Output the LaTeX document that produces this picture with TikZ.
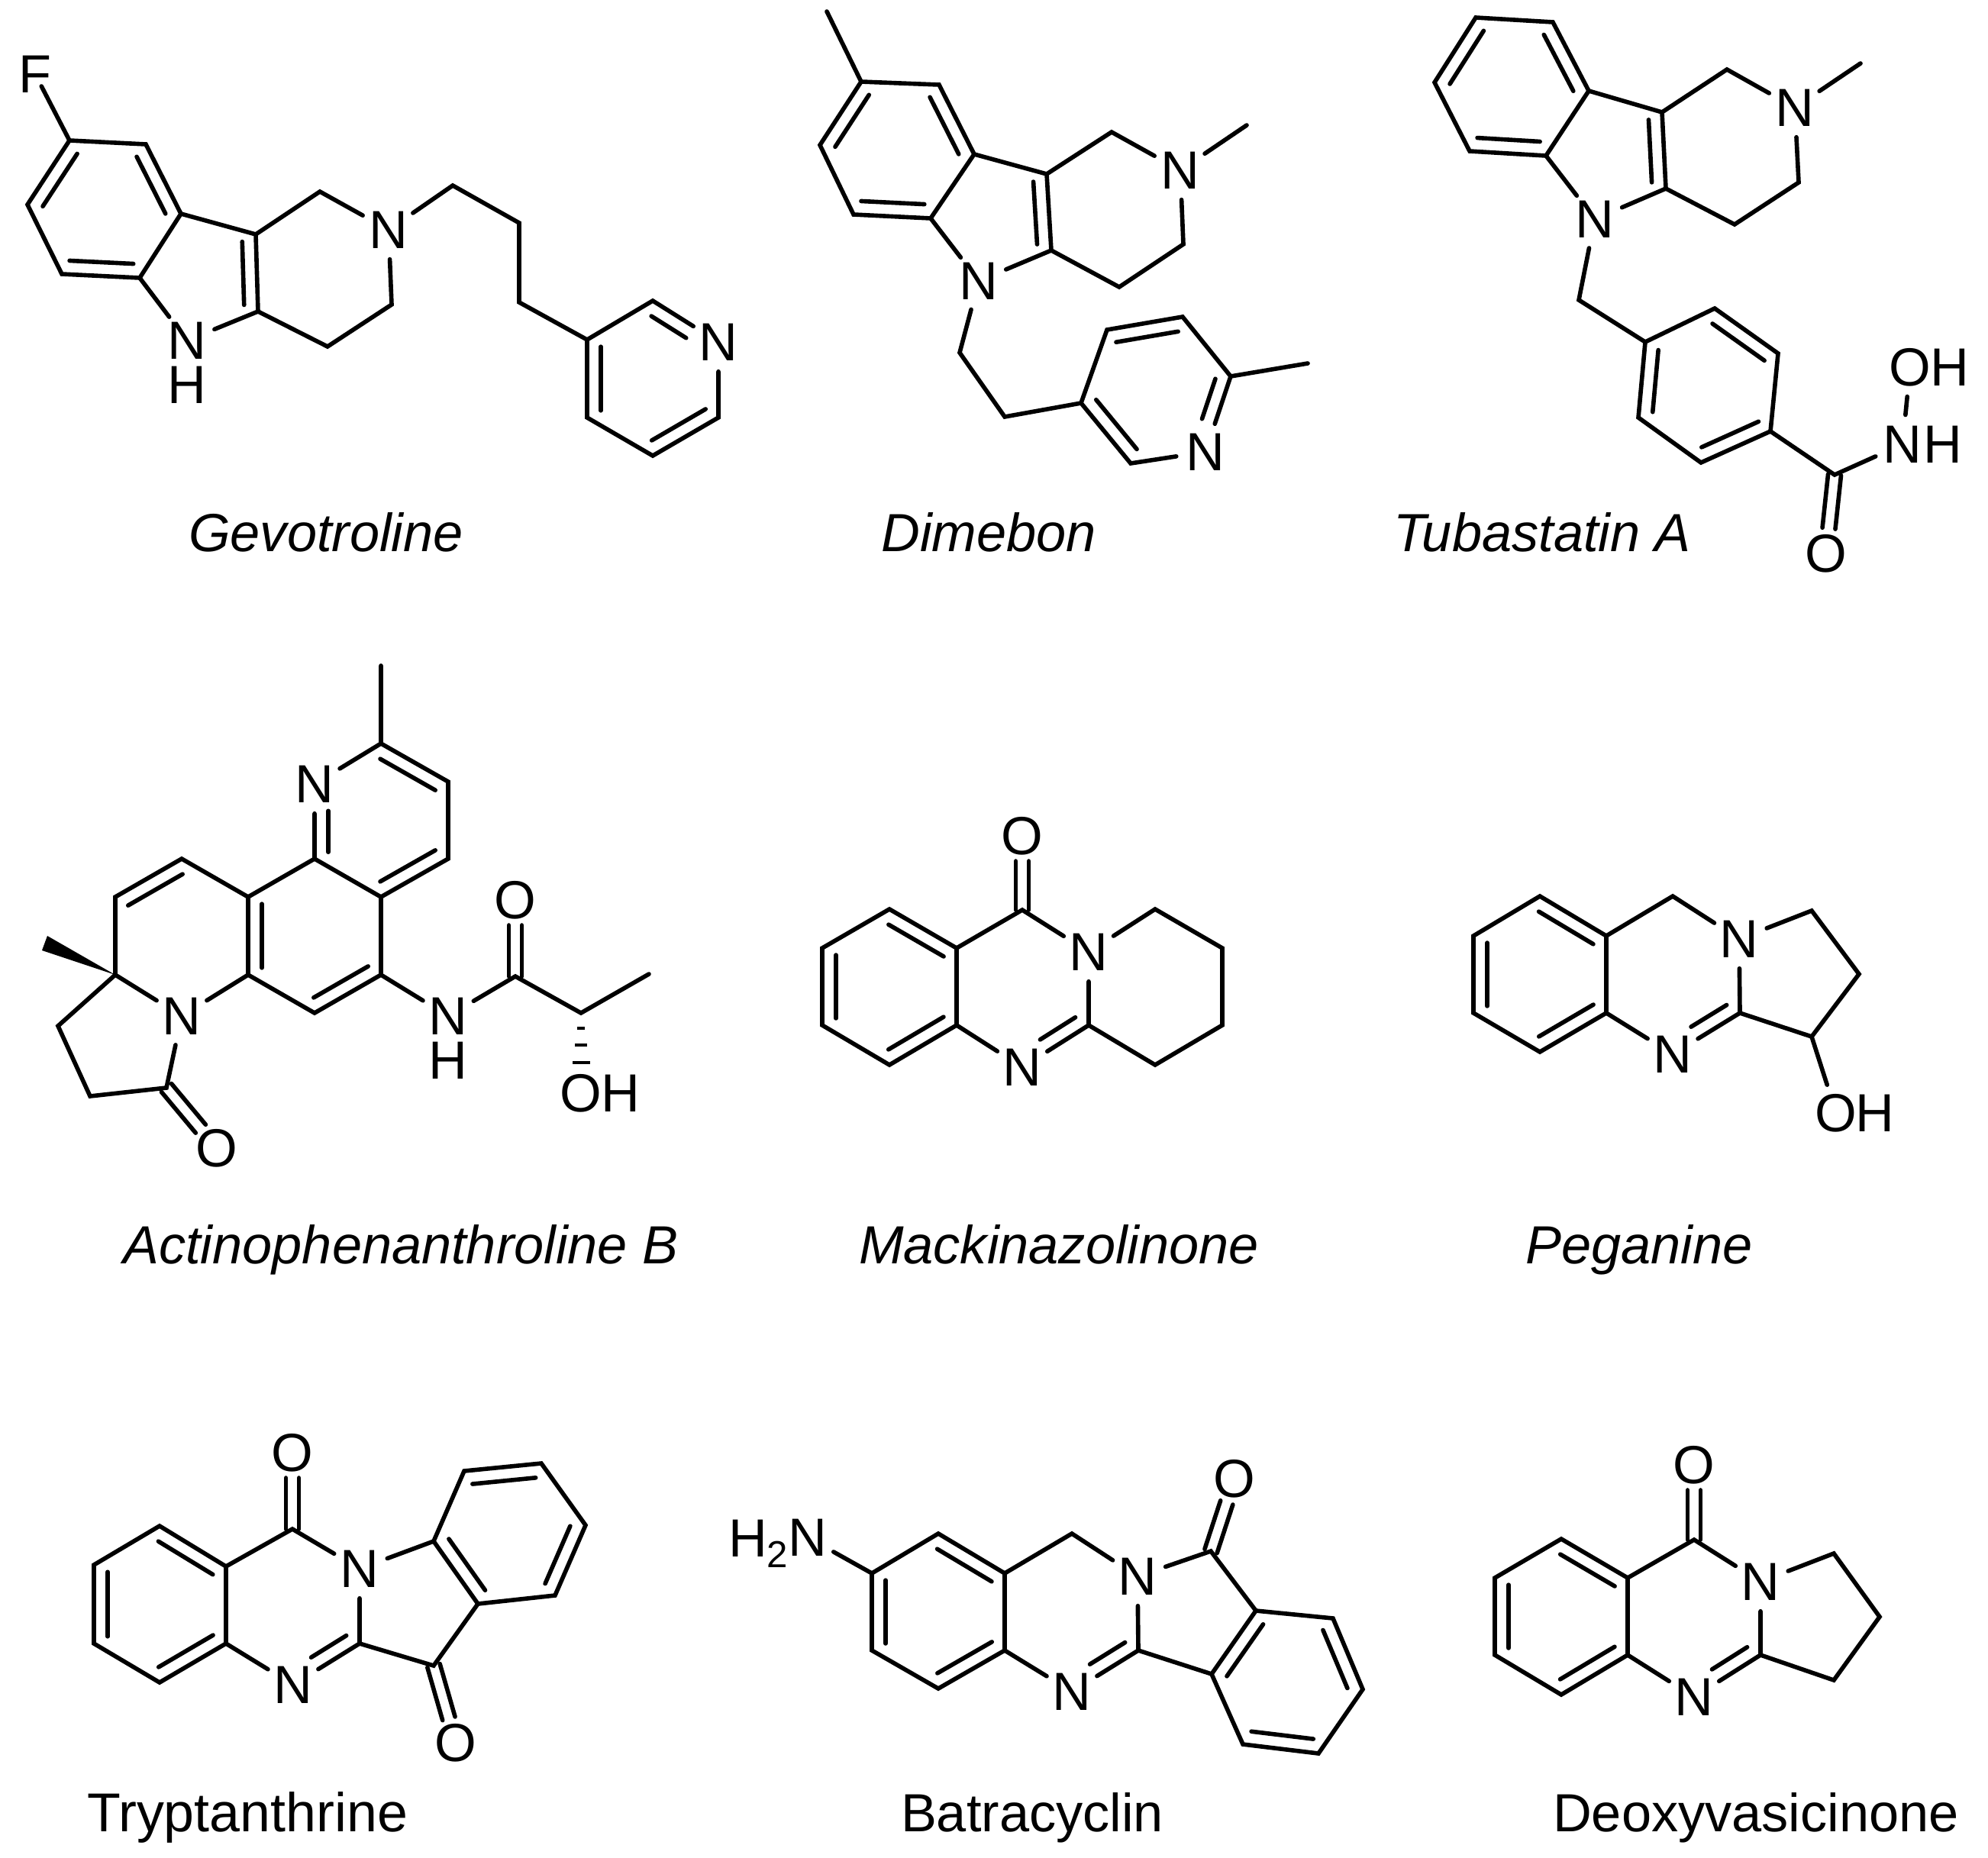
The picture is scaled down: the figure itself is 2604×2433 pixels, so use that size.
\documentclass[tikz,border=0pt]{standalone}
\usepackage{fontspec}
\setmainfont{Liberation Sans}
\usetikzlibrary{calc}
\tikzset{
	bond/.style={line width=1.6pt,line cap=round},
	atom/.style={circle,inner sep=0pt,minimum size=.76cm,font=\fontsize{20}{24}\selectfont},
	molname/.style={anchor=base,inner sep=0pt,font=\fontsize{20}{24}\selectfont},
}
% inner line of a double bond, on the left (\dbl) or right (\dblr) of a->b
\newcommand{\dbl}[3][.91]{\draw[bond] ($(#2)!.09!(#3)!.18cm!90:(#3)$) -- ($(#2)!#1!(#3)!.18cm!-90:(#2)$);}
\newcommand{\dblr}[3][.91]{\draw[bond] ($(#2)!.09!(#3)!.18cm!-90:(#3)$) -- ($(#2)!#1!(#3)!.18cm!90:(#2)$);}
% carbonyl
\newcommand{\twin}[2]{
	\draw[bond,shorten >=.33cm] ($(#1)!.085cm!90:(#2)$) -- ($(#2)!.085cm!-90:(#1)$);
	\draw[bond,shorten >=.33cm] ($(#1)!.085cm!-90:(#2)$) -- ($(#2)!.085cm!90:(#1)$);
}
\begin{document}
\begin{tikzpicture}[x=.01cm,y=-.01cm]
	\useasboundingbox (0,0) rectangle (2604,2433);
	%GEVOTROLINE
	\foreach \n/\x/\y in {g1/91/184,g2/191/189,g3/237/280,g4/183/364,g5/81/359,g6/36/268,g7/335/307,g8/338/408,g9/419/251,g10/513/399,g11/429/454,g12/593/243,g13/680/292,g14/680/396,g15/769/445,g16/855/394,g17/941/547,g18/855/597,g19/769/547}
		\coordinate (\n) at (\x,\y);
	\node[atom] (gF) at (46,97) {F};
	\node[atom] (gN1) at (245,446) {N};
	\node[atom] (gH1) at (245,504) {H};
	\node[atom] (gN2) at (509,301) {N};
	\node[atom] (gN3) at (941,448) {N};
	\draw[bond,shorten >=.18cm] (g1) -- (gF.center);
	\draw[bond] (g1) -- (g2) -- (g3) -- (g4) -- (g5) -- (g6) -- cycle;
	\draw[bond] (g3) -- (g7) -- (g8) -- (gN1) -- (g4);
	\draw[bond] (g7) -- (g9) -- (gN2) -- (g10) -- (g11) -- (g8);
	\draw[bond] (gN2) -- (g12) -- (g13) -- (g14) -- (g15) -- (g16) -- (gN3) -- (g17) -- (g18) -- (g19) -- (g15);
	\dbl{g1}{g6} \dbl{g3}{g2} \dbl{g5}{g4} \dbl{g8}{g7}
	\dbl{g15}{g19} \dbl{g18}{g17} \dblr[.62]{g16}{gN3}
	\node[molname] (nameG) at (427,722) {\itshape Gevotroline};
	%DIMEBON
	\foreach \n/\x/\y in {dM1/1083/15,d1/1128/107,d2/1230/111,d3/1276/202,d4/1219/286,d5/1118/281,d6/1074/190,d7/1371/228,d8/1377/328,d9/1456/173,dM2/1633/164,d10/1550/320,d11/1466/376,d12/1257/462,d13/1316/546,d14/1416/528,d15/1450/432,d16/1549/415,d17/1612/493,dM3/1713/476,d18/1481/607}
		\coordinate (\n) at (\x,\y);
	\node[atom] (dN1) at (1282,368) {N};
	\node[atom] (dN2) at (1546,223) {N};
	\node[atom] (dN3) at (1579,592) {N};
	\draw[bond] (dM1) -- (d1);
	\draw[bond] (d1) -- (d2) -- (d3) -- (d4) -- (d5) -- (d6) -- cycle;
	\draw[bond] (d3) -- (d7) -- (d8) -- (dN1) -- (d4);
	\draw[bond] (d7) -- (d9) -- (dN2) -- (d10) -- (d11) -- (d8);
	\draw[bond] (dN2) -- (dM2);
	\draw[bond] (dN1) -- (d12) -- (d13) -- (d14) -- (d15) -- (d16) -- (d17) -- (dN3) -- (d18) -- (d14);
	\draw[bond] (d17) -- (dM3);
	\dbl{d1}{d6} \dbl{d3}{d2} \dbl{d5}{d4} \dbl{d8}{d7}
	\dbl{d16}{d15} \dbl{d14}{d18} \dblr[.62]{d17}{dN3}
	\node[molname] (nameD) at (1295,722) {\itshape Dimebon};
	%TUBASTATIN
	\foreach \n/\x/\y in {t1/1933/23,t2/2034/29,t3/2081/119,t4/2025/204,t5/1925/198,t6/1879/108,t7/2177/147,t8/2182/247,t9/2262/91,tM/2437/83,t10/2356/239,t11/2272/294,t12/2068/393,t13/2155/448,t14/2246/404,t15/2329/463,t16/2319/565,t17/2228/606,t18/2146/547,t19/2403/622}
		\coordinate (\n) at (\x,\y);
	\node[atom] (tN1) at (2089,287) {N};
	\node[atom] (tN2) at (2351,141) {N};
	\node[atom] (tN3) at (2492,582) {N};
	\node[atom] (tH3) at (2545,582) {H};
	\node[atom] (tO1) at (2502,481) {O};
	\node[atom] (tH1) at (2554,481) {H};
	\node[atom] (tO2) at (2392,725) {O};
	\draw[bond] (t1) -- (t2) -- (t3) -- (t4) -- (t5) -- (t6) -- cycle;
	\draw[bond] (t3) -- (t7) -- (t8) -- (tN1) -- (t4);
	\draw[bond] (t7) -- (t9) -- (tN2) -- (t10) -- (t11) -- (t8);
	\draw[bond] (tN2) -- (tM);
	\draw[bond] (tN1) -- (t12) -- (t13) -- (t14) -- (t15) -- (t16) -- (t17) -- (t18) -- (t13);
	\draw[bond] (t16) -- (t19) -- (tN3) -- (tO1);
	\dbl{t1}{t6} \dbl{t3}{t2} \dbl{t5}{t4} \dbl{t8}{t7}
	\dbl{t15}{t14} \dbl{t17}{t16} \dbl{t13}{t18}
	\twin{t19}{tO2}
	\node[molname] (nameT) at (2020,722) {\itshape Tubastatin A};
	%ACTINOPHENANTHROLINE
	\foreach \n/\x/\y in {aM1/499/872,a1/499/974,a2/587/1024,a3/587/1125,a4/499/1175,a5/412/1125,a6/325/1175,a7/325/1277,a8/412/1327,a9/499/1277,a10/238/1125,a11/151/1175,a12/151/1277,aW1/62/1226,aW2/55/1245,a13/76/1344,a14/118/1436,a15/218/1425,a16/675/1279,a17/761/1327,a18/850/1276}
		\coordinate (\n) at (\x,\y);
	\node[atom] (aN1) at (412,1027) {N};
	\node[atom] (aN2) at (238,1331) {N};
	\node[atom] (aN3) at (587,1331) {N};
	\node[atom] (aH3) at (587,1389) {H};
	\node[atom] (aO1) at (284,1504) {O};
	\node[atom] (aO2) at (675,1179) {O};
	\node[atom] (aO3) at (761,1432) {O};
	\node[atom] (aH) at (813,1432) {H};
	\draw[bond] (aM1) -- (a1) -- (aN1) -- (a5) -- (a4) -- (a3) -- (a2) -- (a1);
	\draw[bond] (a5) -- (a6) -- (a7) -- (a8) -- (a9) -- (a4);
	\draw[bond] (a6) -- (a10) -- (a11) -- (a12) -- (aN2) -- (a7);
	\draw[bond] (a12) -- (a13) -- (a14) -- (a15) -- (aN2);
	\draw[bond] (a9) -- (aN3) -- (a16) -- (a17) -- (a18);
	\fill (a12) -- (aW1) -- (aW2) -- cycle;
	\foreach \f/\w in {.19/.05,.40/.08,.62/.115}
		\draw[line width=1.3pt] ($(a17)!\f!(aO3)!\w cm!90:(aO3)$) -- ($(a17)!\f!(aO3)!\w cm!-90:(aO3)$);
	\dbl{a2}{a1} \dbl{a4}{a3} \dblr[.64]{a5}{aN1}
	\dbl{a6}{a7} \dbl{a8}{a9} \dbl{a10}{a11}
	\twin{a15}{aO1} \twin{a16}{aO2}
	\node[molname] (nameA) at (525,1655) {\itshape Actinophenanthroline B};
	%MACKINAZOLINONE
	\foreach \n/\x/\y in {m1/1165/1191,m2/1253/1242,m3/1253/1343,m4/1165/1395,m5/1077/1343,m6/1077/1242,m7/1339/1192,m8/1426/1343,m9/1513/1191,m10/1601/1242,m11/1601/1343,m12/1513/1395}
		\coordinate (\n) at (\x,\y);
	\node[atom] (mO) at (1339,1095) {O};
	\node[atom] (mN1) at (1426,1247) {N};
	\node[atom] (mN2) at (1339,1398) {N};
	\draw[bond] (m1) -- (m2) -- (m3) -- (m4) -- (m5) -- (m6) -- cycle;
	\draw[bond] (m2) -- (m7) -- (mN1) -- (m8) -- (mN2) -- (m3);
	\draw[bond] (mN1) -- (m9) -- (m10) -- (m11) -- (m12) -- (m8);
	\dbl{m2}{m1} \dbl{m4}{m3} \dbl{m6}{m5} \dblr[.62]{m8}{mN2}
	\twin{m7}{mO}
	\node[molname] (nameM) at (1387,1655) {\itshape Mackinazolinone};
	%PEGANINE
	\foreach \n/\x/\y in {p1/2017/1174,p2/2104/1226,p3/2104/1327,p4/2017/1378,p5/1930/1327,p6/1930/1226,p7/2191/1174,p8/2279/1327,p9/2373/1193,p10/2435/1276,p11/2373/1358}
		\coordinate (\n) at (\x,\y);
	\node[atom] (pN1) at (2278,1230) {N};
	\node[atom] (pN2) at (2191,1381) {N};
	\node[atom] (pO) at (2405,1458) {O};
	\node[atom] (pH) at (2456,1458) {H};
	\draw[bond] (p1) -- (p2) -- (p3) -- (p4) -- (p5) -- (p6) -- cycle;
	\draw[bond] (p2) -- (p7) -- (pN1) -- (p8) -- (pN2) -- (p3);
	\draw[bond] (pN1) -- (p9) -- (p10) -- (p11) -- (p8);
	\draw[bond] (p11) -- (pO);
	\dbl{p2}{p1} \dbl{p4}{p3} \dbl{p6}{p5} \dblr[.62]{p8}{pN2}
	\node[molname] (nameP) at (2147,1655) {\itshape Peganine};
	%TRYPTANTHRINE
	\foreach \n/\x/\y in {y1/209/1999,y2/296/2052,y3/296/2153,y4/209/2204,y5/123/2153,y6/123/2050,y7/383/2003,y8/471/2153,y9/568/2019,y10/626/2101,y11/568/2182,y12/608/1927,y13/709/1917,y14/767/1998,y15/727/2090}
		\coordinate (\n) at (\x,\y);
	\node[atom] (yO1) at (383,1903) {O};
	\node[atom] (yO2) at (597,2283) {O};
	\node[atom] (yN1) at (471,2055) {N};
	\node[atom] (yN2) at (384,2207) {N};
	\draw[bond] (y1) -- (y2) -- (y3) -- (y4) -- (y5) -- (y6) -- cycle;
	\draw[bond] (y2) -- (y7) -- (yN1) -- (y8) -- (yN2) -- (y3);
	\draw[bond] (yN1) -- (y9) -- (y12) -- (y13) -- (y14) -- (y15) -- (y10) -- (y9);
	\draw[bond] (y10) -- (y11) -- (y8);
	\dbl{y2}{y1} \dbl{y4}{y3} \dbl{y6}{y5} \dblr[.62]{y8}{yN2}
	\dbl{y9}{y10} \dbl{y13}{y12} \dbl{y15}{y14}
	\twin{y7}{yO1} \twin{y11}{yO2}
	\node[molname,font=\fontsize{20.4}{24}\selectfont] (nameY) at (324,2399) {Tryptanthrine};
	%BATRACYCLIN
	\foreach \n/\x/\y in {b1/1229/2009,b2/1316/2061,b3/1316/2162,b4/1229/2212,b5/1142/2162,b6/1142/2061,b7/1404/2009,b8/1491/2162,b9/1586/2032,b10/1645/2110,b11/1587/2193,b12/1746/2120,b13/1785/2213,b14/1727/2297,b15/1628/2285}
		\coordinate (\n) at (\x,\y);
	\node[atom] (bN3) at (1058,2014) {N};
	\node[molname,anchor=base east] (bH2) at (1033,2039) {H\raisebox{-.14cm}{\fontsize{14}{14}\selectfont 2}};
	\node[atom] (bN1) at (1490,2065) {N};
	\node[atom] (bN2) at (1404,2216) {N};
	\node[atom] (bO) at (1617,1937) {O};
	\draw[bond] (b1) -- (b2) -- (b3) -- (b4) -- (b5) -- (b6) -- cycle;
	\draw[bond] (b6) -- (bN3);
	\draw[bond] (b2) -- (b7) -- (bN1) -- (b8) -- (bN2) -- (b3);
	\draw[bond] (bN1) -- (b9) -- (b10) -- (b11) -- (b8);
	\draw[bond] (b10) -- (b12) -- (b13) -- (b14) -- (b15) -- (b11);
	\dbl{b2}{b1} \dbl{b4}{b3} \dbl{b6}{b5} \dblr[.62]{b8}{bN2}
	\dbl{b10}{b11} \dbl{b13}{b12} \dbl{b15}{b14}
	\twin{b9}{bO}
	\node[molname] (nameB) at (1352,2399) {Batracyclin};
	%DEOXYVASICINONE
	\foreach \n/\x/\y in {v1/2045/2016,v2/2132/2067,v3/2132/2168,v4/2045/2220,v5/1958/2168,v6/1958/2067,v7/2219/2017,v8/2306/2168,v9/2402/2035,v10/2462/2118,v11/2402/2201}
		\coordinate (\n) at (\x,\y);
	\node[atom] (vO) at (2219,1919) {O};
	\node[atom] (vN1) at (2306,2072) {N};
	\node[atom] (vN2) at (2219,2223) {N};
	\draw[bond] (v1) -- (v2) -- (v3) -- (v4) -- (v5) -- (v6) -- cycle;
	\draw[bond] (v2) -- (v7) -- (vN1) -- (v8) -- (vN2) -- (v3);
	\draw[bond] (vN1) -- (v9) -- (v10) -- (v11) -- (v8);
	\dbl{v2}{v1} \dbl{v4}{v3} \dbl{v6}{v5} \dblr[.62]{v8}{vN2}
	\twin{v7}{vO}
	\node[molname] (nameV) at (2300,2399) {Deoxyvasicinone};
\end{tikzpicture}
\end{document}
